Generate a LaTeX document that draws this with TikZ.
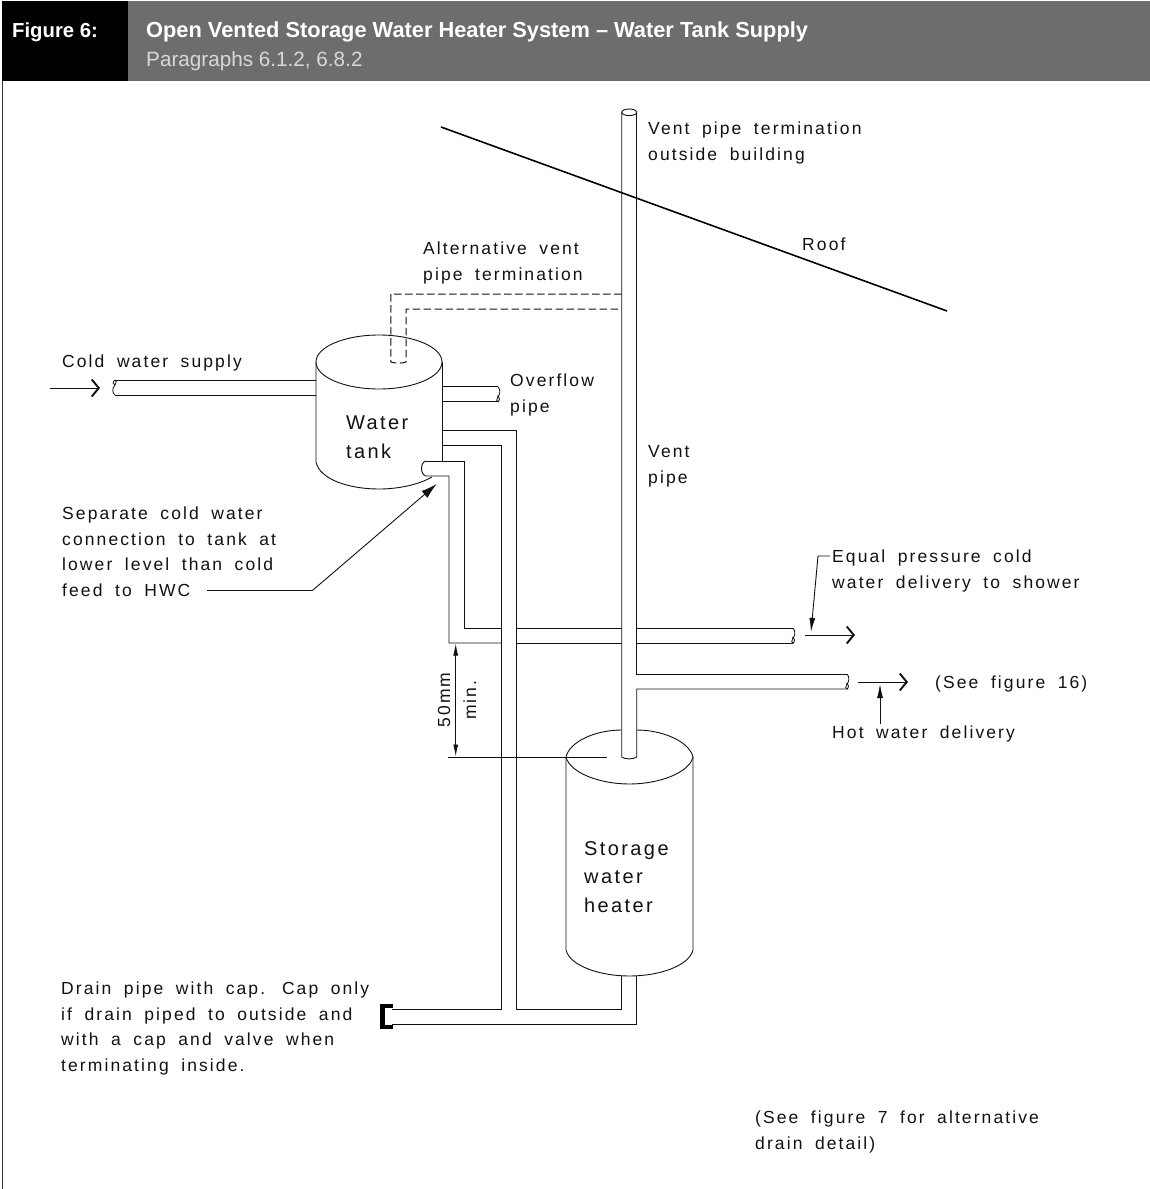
\documentclass[tikz,border=0pt]{standalone}
\usepackage{fontspec}
\setmainfont{Liberation Sans}
\newfontfamily\lblfont[LetterSpace=12,WordSpace=1.8]{Liberation Sans}
\definecolor{hdrgray}{HTML}{6D6D6D}
\definecolor{subgray}{HTML}{D8D8D8}
\definecolor{inkc}{HTML}{111111}
\usetikzlibrary{arrows.meta}
\tikzset{
  pipe/.style={draw=inkc,line width=0.9pt,line join=miter},
  hidden/.style={draw=inkc,line width=1pt,dash pattern=on 7.5pt off 3.5pt},
  lbl/.style={anchor=base west,inner sep=0pt,align=left,text=inkc,font=\lblfont\fontsize{17.5}{25.4}\selectfont},
  biglbl/.style={lbl,font=\lblfont\fontsize{20}{28.7}\selectfont},
  flow/.style={draw=inkc,line width=0.9pt,-{Straight Barb[length=7pt,width=17pt,line width=1.9pt]}},
  leader/.style={draw=inkc,line width=0.9pt,-{Latex[length=14pt,width=6pt]}},
  bigleader/.style={draw=inkc,line width=0.9pt,-{Latex[length=16pt,width=9pt]}},
  dimen/.style={draw=inkc,line width=0.9pt,{Latex[length=12pt,width=5pt]}-{Latex[length=12pt,width=5pt]}},
}
\newcommand{\rbreak}[2]{% right-hand pipe end, x, top y
  \draw[pipe,line width=0.8pt] (#1,#2) .. controls (#1+3,#2+3) and (#1+2,#2+8) .. (#1-0.5,#2+11) .. controls (#1-2.5,#2+13) and (#1-1,#2+15) .. (#1+0.5,#2+15) .. controls (#1+2,#2+14) and (#1+2,#2+11) .. (#1-0.5,#2+9);}
\begin{document}
\begin{tikzpicture}[x=1pt,y=-1pt]
\useasboundingbox (0,0) rectangle (1150,1189);
% header
\fill[black] (2,1) rectangle (128,81);
\fill[hdrgray] (128,1) rectangle (1150,81);
\draw[draw=inkc!85,line width=1.1pt] (2.5,81) -- (2.5,1189);
\node[anchor=base west,inner sep=0pt,text=white,font=\bfseries\fontsize{20.3}{24}\selectfont] (figno) at (12,37.5) {Figure 6:};
\node[anchor=base west,inner sep=0pt,text=white,font=\bfseries\fontsize{21.8}{26}\selectfont] (title) at (146,37.5) {Open Vented Storage Water Heater System -- Water Tank Supply};
\node[anchor=base west,inner sep=0pt,text=subgray,font=\fontsize{20.7}{24}\selectfont] (para) at (146,66.5) {Paragraphs 6.1.2, 6.8.2};
% roof
\draw[draw=black,line width=1.6pt] (441,127) -- (947,311);
% vent pipe
\draw[pipe] (629.2,112.3) ellipse [x radius=7.5,y radius=3.3];
\draw[pipe] (621.7,112.3) -- (621.7,757) .. controls (624,759.5) and (634,759.5) .. (636.7,757) -- (636.7,689) -- (847,689);
\draw[pipe] (636.7,112.3) -- (636.7,674) -- (847,674);
\rbreak{847}{674}
% alternative vent (dashed)
\draw[hidden] (621.7,294) -- (390.8,294) -- (390.8,362) .. controls (394,363.5) and (403,363.5) .. (406,362) -- (406,309) -- (621.7,309);
% water tank
\draw[pipe] (316,362) -- (316,462) .. controls (320,480) and (350,489) .. (379,489) .. controls (400,489) and (420,484) .. (432,477);
\draw[pipe] (442,362) -- (442,461);
\draw[pipe] (379,362) ellipse [x radius=63,y radius=27];
% cold supply
\draw[pipe] (316,380) -- (115,380);
\draw[pipe] (316,395) -- (115,395);
\draw[pipe,line width=0.8pt] (115,380) .. controls (112,382) and (113,385) .. (115,385) .. controls (117,383) and (116,380) .. (115,380) (115,385) .. controls (112,388) and (112,393) .. (115,395);
% overflow
\draw[pipe] (442,386.7) -- (498,386.7);
\draw[pipe] (442,401.7) -- (498,401.7);
\rbreak{498}{386.7}
% drain feed pipes
\draw[pipe] (442,430) -- (516.7,430) -- (516.7,1009) -- (621.7,1009) -- (621.7,976);
\draw[pipe] (442,445) -- (501.7,445) -- (501.7,1009) -- (392,1009);
\draw[pipe] (636.7,976) -- (636.7,1024) -- (392,1024);
% cold delivery
\draw[pipe] (442,461) -- (464,461) -- (464,628) -- (501.7,628);
\draw[pipe] (516.7,628) -- (621.7,628);
\draw[pipe] (636.7,628) -- (793,628);
\draw[pipe] (426,461) .. controls (420,462) and (420,475) .. (426,476) -- (449,476) -- (449,643) -- (501.7,643);
\draw[pipe] (426,461) -- (442,461);
\draw[pipe] (516.7,643) -- (621.7,643);
\draw[pipe] (636.7,643) -- (793,643);
\rbreak{793}{628}
% heater
\draw[pipe] (566,757) -- (566,950) .. controls (570,966) and (600,976) .. (629.5,976) .. controls (659,976) and (689,966) .. (693,950) -- (693,757);
\draw[pipe] (566,757) .. controls (570,741) and (596,730) .. (621.7,730);
\draw[pipe] (636.7,730) .. controls (662,730) and (689,741) .. (693,757);
\draw[pipe] (566,757) .. controls (570,773) and (600,784) .. (629.5,784) .. controls (659,784) and (689,773) .. (693,757);
% drain cap
\draw[draw=black,line width=4.4pt,line join=miter] (392.5,1006) -- (382.5,1006) -- (382.5,1027) -- (392.5,1027);
% dimension
\draw[pipe] (448,757) -- (607,757);
\coordinate (dimtop) at (455.7,643.5);
\coordinate (dimbot) at (455.7,756.5);
\draw[dimen] (dimtop) -- (dimbot);
\node[lbl,rotate=90,anchor=base] (fifty) at (450,700) {50mm};
\node[lbl,rotate=90,anchor=base] (minlbl) at (476,700) {min.};
% flow arrows
\coordinate (coldA) at (50,388); \coordinate (coldB) at (100,388);
\draw[flow] (coldA) -- (coldB);
\coordinate (showA) at (805,635); \coordinate (showB) at (855,635);
\draw[flow] (showA) -- (showB);
\coordinate (hotA) at (858,682); \coordinate (hotB) at (908,682);
\draw[flow] (hotA) -- (hotB);
% leaders
\draw[leader] (830,556) -- (818,556) -- (811,632);
\draw[leader] (880,724) -- (880,684);
\draw[draw=inkc,line width=0.9pt] (207,590) -- (313,590);
\draw[bigleader] (313,590) -- (436.7,484);
% labels
\node[lbl] (l1) at (648,160) {Vent pipe termination\\outside building};
\node[lbl] (l2) at (802,250) {Roof};
\node[lbl] (l3) at (423,280) {Alternative vent\\pipe termination};
\node[lbl] (l4) at (62,367) {Cold water supply};
\node[lbl] (l5) at (510,412) {Overflow\\pipe};
\node[biglbl] (l6) at (346,458) {Water\\tank};
\node[lbl] (l7) at (648,483) {Vent\\pipe};
\node[lbl] (l8) at (62,596) {Separate cold water\\connection to tank at\\lower level than cold\\feed to HWC};
\node[lbl] (l9) at (832,588) {Equal pressure cold\\water delivery to shower};
\node[lbl] (l10) at (935,688) {(See figure 16)};
\node[lbl] (l11) at (832,738) {Hot water delivery};
\node[biglbl] (l12) at (584,912.5) {Storage\\water\\heater};
\node[lbl] (l13) at (61,1071) {Drain pipe with cap.\hspace{2pt} Cap only\\if drain piped to outside and\\with a cap and valve when\\terminating inside.};
\node[lbl] (l14) at (755,1149) {(See figure 7 for alternative\\drain detail)};
\end{tikzpicture}
\end{document}
